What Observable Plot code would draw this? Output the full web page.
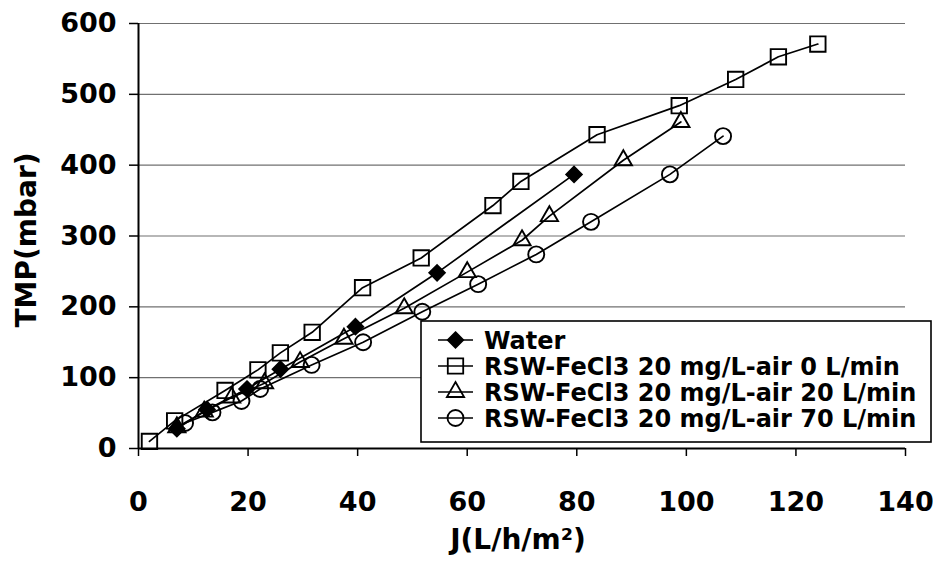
<!DOCTYPE html>
<html>
<head>
<meta charset="utf-8">
<script src="https://cdn.jsdelivr.net/npm/d3@7"></script>
<script src="https://cdn.jsdelivr.net/npm/@observablehq/plot@0.6"></script>
<style>
  html, body { margin: 0; padding: 0; background: #fff; }
  #chart { position: relative; width: 933px; height: 561px; overflow: hidden; }
  #legend { position: absolute; left: 420px; top: 320px; }
</style>
</head>
<body>
<div id="chart"></div>
<script>
// Axis ticks and titles
const xTicks = [0, 20, 40, 60, 80, 100, 120, 140];
const yTicks = [0, 100, 200, 300, 400, 500, 600];
const xLabel = "J(L/h/m²)";
const yLabel = "TMP(mbar)";

// Series names (legend order)
const seriesNames = [
  "Water",
  "RSW-FeCl3 20 mg/L-air 0 L/min",
  "RSW-FeCl3 20 mg/L-air 20 L/min",
  "RSW-FeCl3 20 mg/L-air 70 L/min"
];

// Flux J (L/h/m²) and transmembrane pressure (mbar) for each run
const waterJ   = [7, 12.5, 19.8, 25.9, 39.6, 54.5, 79.5];
const waterTMP = [28, 55, 84, 112, 172, 248, 387];

const air0J   = [2, 6.6, 15.8, 21.8, 25.9, 31.7, 40.9, 51.6, 64.7, 69.8, 83.7, 98.7, 109, 116.8, 124];
const air0TMP = [10, 39, 82, 111, 135, 164, 227, 269, 343, 377, 443, 484, 521, 553, 571];

const air20J   = [7, 12, 17, 23, 29.5, 37.5, 48.5, 60, 70, 75, 88.5, 99];
const air20TMP = [30, 52, 72, 92, 122, 155, 198, 249, 294, 328, 407, 461];

const air70J   = [8.5, 13.5, 18.8, 22.2, 31.6, 41, 51.8, 62, 72.6, 82.6, 97, 106.7];
const air70TMP = [36, 51, 67, 84, 118, 150, 193, 232, 274, 320, 387, 441];

// Marker style per series
const markers = [
  {symbol: "diamond2", r: 7,   fill: "black"},
  {symbol: "square",   r: 8.7, fill: "none"},
  {symbol: "triangle", r: 6.4, fill: "none"},
  {symbol: "circle",   r: 8,   fill: "none"}
];

const columns = [[waterJ, waterTMP], [air0J, air0TMP], [air20J, air20TMP], [air70J, air70TMP]];
const tables = columns.map(([js, ps], i) =>
  js.map((j, k) => ({series: seriesNames[i], j, tmp: ps[k]}))
);

const seriesMarks = tables.flatMap((rows, i) => [
  Plot.line(rows, {x: "j", y: "tmp", stroke: "black", strokeWidth: 1.7}),
  Plot.dot(rows, {
    x: "j", y: "tmp",
    symbol: () => markers[i].symbol,
    r: markers[i].r,
    fill: markers[i].fill,
    stroke: "black",
    strokeWidth: 1.9
  })
]);

const chart = Plot.plot({
  width: 933,
  height: 561,
  marginLeft: 138,
  marginRight: 28,
  marginTop: 23,
  marginBottom: 113,
  style: {
    fontFamily: "'DejaVu Sans', sans-serif",
    fontWeight: "bold",
    fontSize: "27px",
    color: "#000",
    background: "#fff",
    overflow: "visible"
  },
  x: {domain: [0, 140]},
  y: {domain: [0, 600]},
  symbol: {type: "identity"},
  marks: [
    Plot.gridY(yTicks.filter(v => v > 0), {stroke: "#707070", strokeOpacity: 1, strokeWidth: 1.2}),
    Plot.axisX(xTicks, {tickSize: 8, tickPadding: 35, label: null, fontSize: 27, strokeWidth: 1.5}),
    Plot.axisY(yTicks, {tickSize: 9, tickPadding: 13, label: null, fontSize: 27, strokeWidth: 1.5}),
    Plot.ruleY([0], {stroke: "black", strokeWidth: 2}),
    Plot.ruleX([0], {stroke: "black", strokeWidth: 2}),
    ...seriesMarks,
    Plot.text([yLabel], {
      text: d => d, frameAnchor: "left", textAnchor: "middle", lineAnchor: "middle",
      dx: -111, dy: 4, rotate: -90, fontSize: 28, fontWeight: "bold"
    }),
    Plot.text([xLabel], {
      text: d => d, frameAnchor: "bottom", textAnchor: "middle", lineAnchor: "middle",
      dx: -4, dy: 92, fontSize: 28, fontWeight: "bold"
    })
  ]
});

const host = document.getElementById("chart");
host.appendChild(chart);

// Boxed legend inside the plot area, lower right
const legW = 510, legH = 121, rowY0 = 20, rowStep = 26;
const legend = d3.create("svg")
  .attr("id", "legend")
  .attr("width", legW + 2)
  .attr("height", legH + 2)
  .style("overflow", "visible");
legend.append("rect")
  .attr("x", 1).attr("y", 1)
  .attr("width", legW).attr("height", legH)
  .attr("fill", "white").attr("stroke", "black").attr("stroke-width", 1.6);

const symbolTypes = {
  diamond2: d3.symbolDiamond2,
  square: d3.symbolSquare,
  triangle: d3.symbolTriangle,
  circle: d3.symbolCircle
};

seriesNames.forEach((name, i) => {
  const y = rowY0 + i * rowStep;
  const g = legend.append("g").attr("transform", `translate(0,${y})`);
  g.append("line")
    .attr("x1", 18).attr("x2", 53)
    .attr("stroke", "black").attr("stroke-width", 1.6);
  g.append("path")
    .attr("transform", "translate(35.5,0)")
    .attr("d", d3.symbol(symbolTypes[markers[i].symbol], Math.PI * markers[i].r * markers[i].r)())
    .attr("fill", markers[i].fill)
    .attr("stroke", "black")
    .attr("stroke-width", 1.8);
  g.append("text")
    .attr("x", 64)
    .attr("dy", "0.36em")
    .attr("font-family", "'DejaVu Sans', sans-serif")
    .attr("font-weight", "bold")
    .attr("font-size", 24)
    .text(name);
});

host.appendChild(legend.node());
</script>
</body>
</html>
